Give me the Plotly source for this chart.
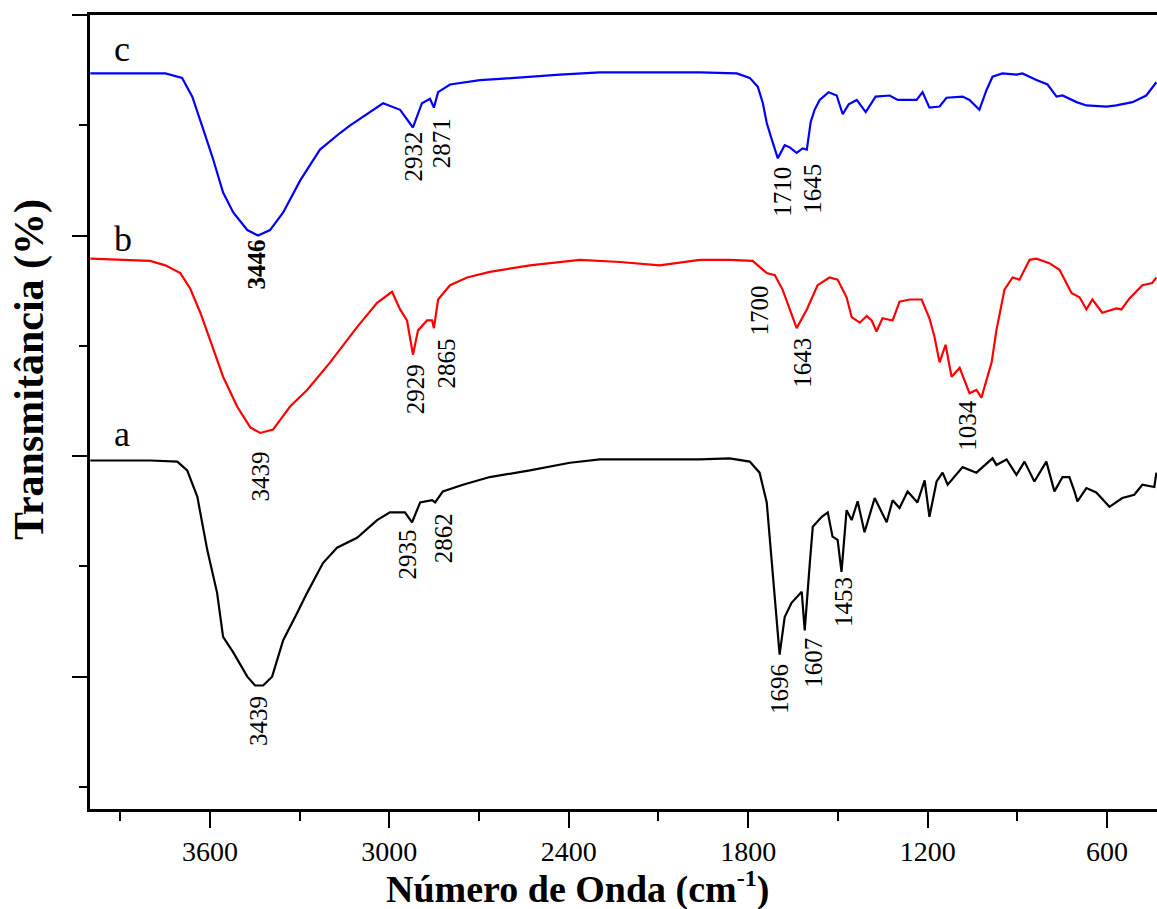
import plotly.graph_objects as go

# Curve a (black)
wn_a = [4000, 3800, 3709, 3676, 3642, 3609, 3576, 3556, 3522, 3475, 3449, 3422, 3392, 3355, 3308, 3275,
        3222, 3175, 3108, 3041, 2998, 2948, 2924, 2897, 2857, 2847, 2821, 2754, 2664, 2530, 2396, 2296,
        1962, 1862, 1795, 1762, 1738, 1721, 1705, 1695, 1678, 1655, 1621, 1611, 1594, 1584, 1554, 1534,
        1518, 1501, 1488, 1471, 1454, 1434, 1411, 1377, 1337, 1317, 1294, 1267, 1234, 1210, 1194, 1170,
        1150, 1133, 1083, 1037, 983, 970, 936, 903, 876, 843, 803, 776, 749, 726, 709, 699, 669, 636,
        592, 549, 509, 482, 442, 435]
t_a = [19.6, 19.6, 19.5, 18.7, 16.3, 11.5, 7.6, 3.6, 2.2, 0.0, -0.8, -0.8, 0.0, 3.3, 5.8, 7.6,
       10.3, 11.7, 12.6, 14.2, 14.9, 14.9, 14.0, 15.8, 16.0, 15.8, 16.8, 17.4, 18.1, 18.7, 19.4, 19.7,
       19.7, 19.8, 19.5, 18.5, 15.8, 10.3, 4.9, 2.0, 5.4, 6.7, 7.7, 4.2, 10.3, 13.6, 14.5, 14.9,
       12.7, 12.4, 9.5, 15.1, 14.2, 15.9, 13.1, 16.2, 14.0, 16.0, 15.3, 16.8, 15.8, 17.8, 14.5, 17.7,
       18.5, 17.4, 19.0, 18.5, 19.8, 19.2, 19.7, 18.3, 19.5, 17.7, 19.5, 16.8, 18.1, 18.1, 16.8, 15.9, 17.1, 16.7,
       15.4, 16.2, 16.5, 17.4, 17.2, 18.5]

# Curve b (red)
wn_b = [4000, 3800, 3749, 3699, 3666, 3632, 3599, 3556, 3509, 3465, 3432, 3389, 3332, 3275, 3198, 3108,
        3041, 2991, 2964, 2941, 2921, 2904, 2874, 2857, 2851, 2837, 2797, 2740, 2664, 2530, 2363, 2229,
        2096, 1962, 1862, 1785, 1738, 1711, 1685, 1638, 1604, 1568, 1528, 1501, 1471, 1454, 1427, 1404,
        1387, 1371, 1351, 1317, 1294, 1260, 1220, 1194, 1177, 1160, 1140, 1120, 1093, 1060, 1037, 1020,
        986, 970, 943, 916, 893, 859, 836, 793, 759, 719, 692, 669, 649, 616, 569, 552, 525, 482, 449, 435]
t_b = [37.9, 37.7, 37.3, 36.6, 35.2, 33.0, 30.5, 27.2, 24.5, 22.6, 22.1, 22.4, 24.5, 26.0, 28.5, 31.7,
       33.9, 34.9, 33.3, 32.3, 29.2, 31.4, 32.3, 32.3, 31.6, 34.2, 35.5, 36.2, 36.7, 37.3, 37.8, 37.6,
       37.3, 37.8, 37.8, 37.7, 36.6, 36.4, 35.1, 31.6, 33.3, 35.5, 36.2, 36.0, 34.4, 32.6, 32.1, 32.7,
       32.3, 31.3, 32.5, 32.3, 34.0, 34.2, 34.2, 32.5, 30.8, 28.5, 30.1, 27.2, 28.0, 25.7, 26.0, 25.3,
       28.5, 31.4, 35.1, 36.2, 36.0, 37.8, 37.9, 37.5, 36.9, 34.8, 34.4, 33.3, 34.2, 33.0, 33.4, 33.3, 34.3, 35.5, 35.7, 36.2]

# Curve c (blue)
wn_c = [4000, 3749, 3693, 3659, 3622, 3589, 3556, 3522, 3475, 3439, 3399, 3355, 3298, 3232, 3165, 3131,
        3021, 2964, 2921, 2891, 2864, 2851, 2837, 2797, 2697, 2630, 2430, 2296, 1962, 1838, 1795, 1768,
        1751, 1738, 1721, 1701, 1678, 1661, 1638, 1618, 1604, 1591, 1578, 1561, 1531, 1504, 1484, 1464,
        1437, 1407, 1374, 1327, 1300, 1237, 1217, 1194, 1160, 1137, 1083, 1060, 1027, 1003, 983, 950,
        903, 883, 836, 799, 769, 749, 702, 669, 602, 569, 515, 469, 435]
t_c = [54.7, 54.7, 54.3, 52.6, 49.6, 46.9, 43.9, 42.1, 40.5, 40.0, 40.5, 42.1, 45.0, 47.8, 49.3, 50.0,
       52.0, 51.4, 49.8, 52.0, 52.4, 51.6, 53.0, 53.7, 54.1, 54.2, 54.6, 54.8, 54.8, 54.7, 54.3, 53.5,
       52.0, 50.2, 48.7, 47.0, 48.2, 48.0, 47.5, 47.9, 47.8, 50.3, 51.4, 52.3, 53.0, 52.7, 51.0, 51.9,
       52.3, 51.2, 52.6, 52.7, 52.3, 52.3, 53.0, 51.6, 51.7, 52.5, 52.6, 52.3, 51.4, 53.2, 54.4, 54.7,
       54.6, 54.7, 54.1, 53.7, 52.6, 52.7, 52.1, 51.8, 51.7, 51.8, 52.1, 52.7, 53.9]

# Peak labels
peak_labels = ["<b>3446</b>", "2932", "2871", "1710", "1645",
               "3439", "2929", "2865", "1700", "1643", "1034",
               "3439", "2935", "2862", "1696", "1607", "1453"]
label_x = [3445, 2920, 2823, 1686, 1585, 3431, 2913, 2809, 1759, 1619, 1067,
           3435, 2940, 2819, 1696, 1582, 1482]
label_y = [37.4, 47.2, 48.4, 44.0, 44.2, 18.2, 26.1, 28.45, 33.25, 28.5, 22.8,
           -4.0, 11.1, 12.6, -1.1, 1.3, 6.8]

curve_names = ["a", "b", "c"]
curve_name_x = [3893, 3890, 3893]
curve_name_y = [22.0, 39.7, 56.9]

x_ticks = [600, 1200, 1800, 2400, 3000, 3600]
y_major = [0, 20, 40, 60]
y_minor = [-10, 10, 30, 50]

FONT = "Liberation Serif, Times New Roman, serif"

fig = go.Figure()
for wn, t, col, nm in [(wn_a, t_a, "#000000", "a"), (wn_b, t_b, "#FF0000", "b"), (wn_c, t_c, "#0000FF", "c")]:
    fig.add_trace(go.Scatter(x=wn, y=t, mode="lines", line=dict(color=col, width=2.2), name=nm,
                             showlegend=False, hoverinfo="skip"))

annotations = []
for txt, x, y in zip(peak_labels, label_x, label_y):
    annotations.append(dict(x=x, y=y, xref="x", yref="y", text=txt, showarrow=False, textangle=-90,
                            xanchor="center", yanchor="middle", font=dict(family=FONT, size=25, color="black")))
for txt, x, y in zip(curve_names, curve_name_x, curve_name_y):
    annotations.append(dict(x=x, y=y, xref="x", yref="y", text=txt, showarrow=False,
                            xanchor="center", yanchor="middle", font=dict(family=FONT, size=36, color="black")))
annotations.append(dict(x=-0.0562, y=0.553, xref="paper", yref="paper", text="<b>Transmitância (%)</b>",
                        showarrow=False, textangle=-90, xanchor="center", yanchor="middle",
                        font=dict(family=FONT, size=42, color="black")))
annotations.append(dict(x=0.457, y=-0.099, xref="paper", yref="paper",
                        text="<b>Número de Onda (cm<sup><span style=\"font-size:24px\">-1</span></sup>)</b>",
                        showarrow=False, xanchor="center", yanchor="middle",
                        font=dict(family=FONT, size=38, color="black")))

fig.update_layout(
    width=1157, height=909,
    margin=dict(l=90, r=0, t=15, b=100),
    paper_bgcolor="white", plot_bgcolor="white",
    annotations=annotations,
    xaxis=dict(range=[4001, 433], showgrid=False, zeroline=False, showline=True, linecolor="black",
               linewidth=2.6, mirror=True, ticks="outside", ticklen=16, tickwidth=2.4, tickcolor="black",
               tickvals=x_ticks, ticktext=[str(v) for v in x_ticks],
               tickfont=dict(family=FONT, size=28, color="black"),
               minor=dict(dtick=300, tick0=0, ticks="outside", ticklen=9, tickwidth=2.4, tickcolor="black", showgrid=False)),
    yaxis=dict(range=[-12, 60], showgrid=False, zeroline=False, showline=True, linecolor="black",
               linewidth=2.6, mirror=False, ticks="outside", ticklen=15, tickwidth=2.4, tickcolor="black",
               tickvals=y_major, showticklabels=False,
               minor=dict(tickvals=y_minor, ticks="outside", ticklen=8, tickwidth=2.4, tickcolor="black", showgrid=False)),
)

fig.write_html("out.html", config={"displayModeBar": False})
